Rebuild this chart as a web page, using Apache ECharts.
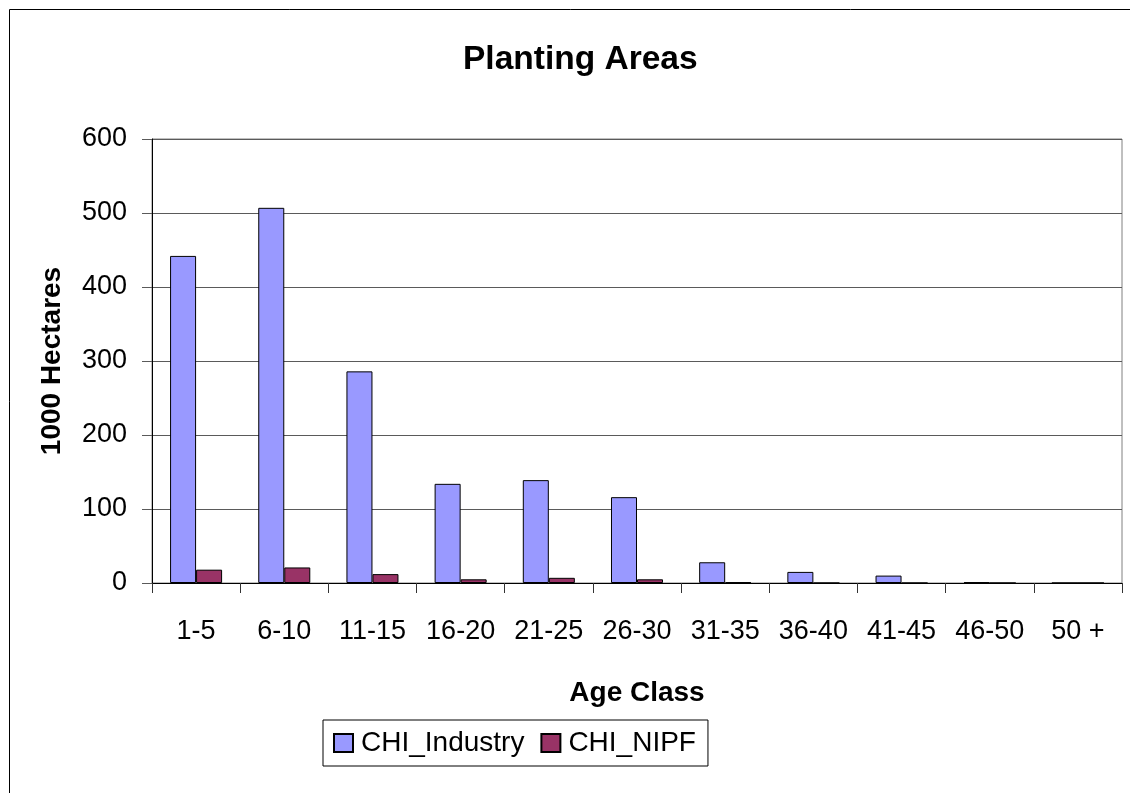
<!DOCTYPE html>
<html>
<head>
<meta charset="utf-8">
<script src="https://cdn.jsdelivr.net/npm/echarts@6/dist/echarts.min.js"></script>
<style>html,body{margin:0;padding:0;background:#fff}#c{width:1130px;height:793px}</style>
</head>
<body>
<div id="c"></div>
<script>
const categories = ['1-5','6-10','11-15','16-20','21-25','26-30','31-35','36-40','41-45','46-50','50 +'];
const chiIndustry = [442, 507, 286, 134, 139, 116, 28, 15, 10, 1, 0];
const chiNIPF = [18, 21, 12, 5, 7, 5, 1, 0, 0, 0, 0];
const yTicks = [0, 100, 200, 300, 400, 500, 600];

const FF = "'Liberation Sans', Arial, sans-serif";
const chart = echarts.init(document.getElementById('c'), null, {renderer: 'canvas'});
chart.setOption({
  animation: false,
  backgroundColor: '#fff',
  textStyle: {fontFamily: FF, color: '#000'},
  title: {
    text: 'Planting Areas',
    left: 458,
    top: 38,
    textStyle: {fontFamily: FF, fontWeight: 'bold', fontSize: 33.5, color: '#000'}
  },
  graphic: [{
    type: 'rect',
    shape: {x: 9.5, y: 9.5, width: 1300, height: 1000},
    style: {fill: 'none', stroke: '#000', lineWidth: 1},
    silent: true, z: -1
  }],
  grid: {
    left: 152, right: 8, top: 139, bottom: 210,
    show: true, borderColor: '#808080', borderWidth: 1, backgroundColor: 'transparent'
  },
  legend: {
    left: 323, top: 720,
    orient: 'horizontal',
    icon: 'rect',
    itemWidth: 19, itemHeight: 18, itemGap: 16,
    padding: [9, 12, 9, 10],
    borderColor: '#000', borderWidth: 1,
    textStyle: {fontFamily: FF, fontSize: 28, color: '#000', padding: [0, 0, 0, 3]},
    data: ['CHI_Industry', 'CHI_NIPF']
  },
  xAxis: {
    type: 'category',
    data: categories,
    name: 'Age Class',
    nameLocation: 'middle',
    nameGap: 96,
    nameTextStyle: {fontFamily: FF, fontWeight: 'bold', fontSize: 28, color: '#000'},
    axisLine: {show: true, lineStyle: {color: '#000', width: 1}},
    axisTick: {show: true, alignWithLabel: false, inside: false, length: 10, lineStyle: {color: '#333'}},
    axisLabel: {fontFamily: FF, fontSize: 27, color: '#000', margin: 35, interval: 0},
    splitLine: {show: false}
  },
  yAxis: {
    type: 'value',
    min: 0, max: 600, interval: 100,
    name: '1000 Hectares',
    nameLocation: 'middle',
    nameGap: 86,
    nameRotate: 90,
    nameTextStyle: {fontFamily: FF, fontWeight: 'bold', fontSize: 28, color: '#000'},
    axisLine: {show: true, lineStyle: {color: '#000', width: 1}},
    axisTick: {show: true, inside: false, length: 10, lineStyle: {color: '#5a5a5a'}},
    axisLabel: {
      fontFamily: FF, fontSize: 27, color: '#000', margin: 25,
      formatter: function (v) { return yTicks.indexOf(v) >= 0 ? String(v) : ''; }
    },
    splitLine: {show: true, lineStyle: {color: '#5a5a5a', width: 1}}
  },
  series: [
    {
      name: 'CHI_Industry', type: 'bar', data: chiIndustry,
      barGap: '0%', barCategoryGap: '41%',
      itemStyle: {color: '#9999FF', borderColor: '#000', borderWidth: 1}
    },
    {
      name: 'CHI_NIPF', type: 'bar', data: chiNIPF,
      barGap: '0%', barCategoryGap: '41%',
      itemStyle: {color: '#993366', borderColor: '#000', borderWidth: 1}
    }
  ]
});
</script>
</body>
</html>
